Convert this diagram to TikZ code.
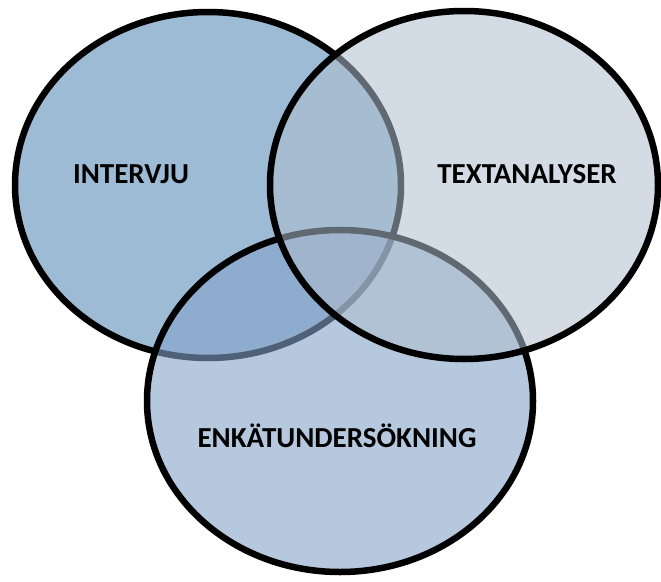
\documentclass[tikz,border=0pt]{standalone}
\usepackage{fontspec}
\setmainfont{Carlito}
\definecolor{interblue}{RGB}{157,187,213}
\definecolor{enkblue}{RGB}{133,163,200}
\definecolor{textgrey}{RGB}{175,190,206}
\tikzset{
  ring/.style={draw=black, line width=6.5pt},
  setname/.style={font=\fontsize{29}{34}\selectfont\bfseries, text=black, inner sep=0pt, anchor=base}
}
\begin{document}
\begin{tikzpicture}[x=1pt,y=-1pt]
    \useasboundingbox (0,0) rectangle (661,581);

    % the three sets
    \filldraw[ring, fill=interblue] (208,185) ellipse [x radius=193pt, y radius=173pt];
    \filldraw[ring, fill=enkblue, fill opacity=0.6] (340,401) ellipse [x radius=193pt, y radius=171pt];
    \filldraw[ring, fill=textgrey, fill opacity=0.55] (464,185) ellipse [x radius=194pt, y radius=174pt];

    % names
    \node[setname] (intervju) at (131,183) {INTERVJU};
    \node[setname] (textanalyser) at (527,183) {TEXTANALYSER};
    \node[setname] (enkat) at (337,447) {ENKÄTUNDERSÖKNING};
\end{tikzpicture}
\end{document}
